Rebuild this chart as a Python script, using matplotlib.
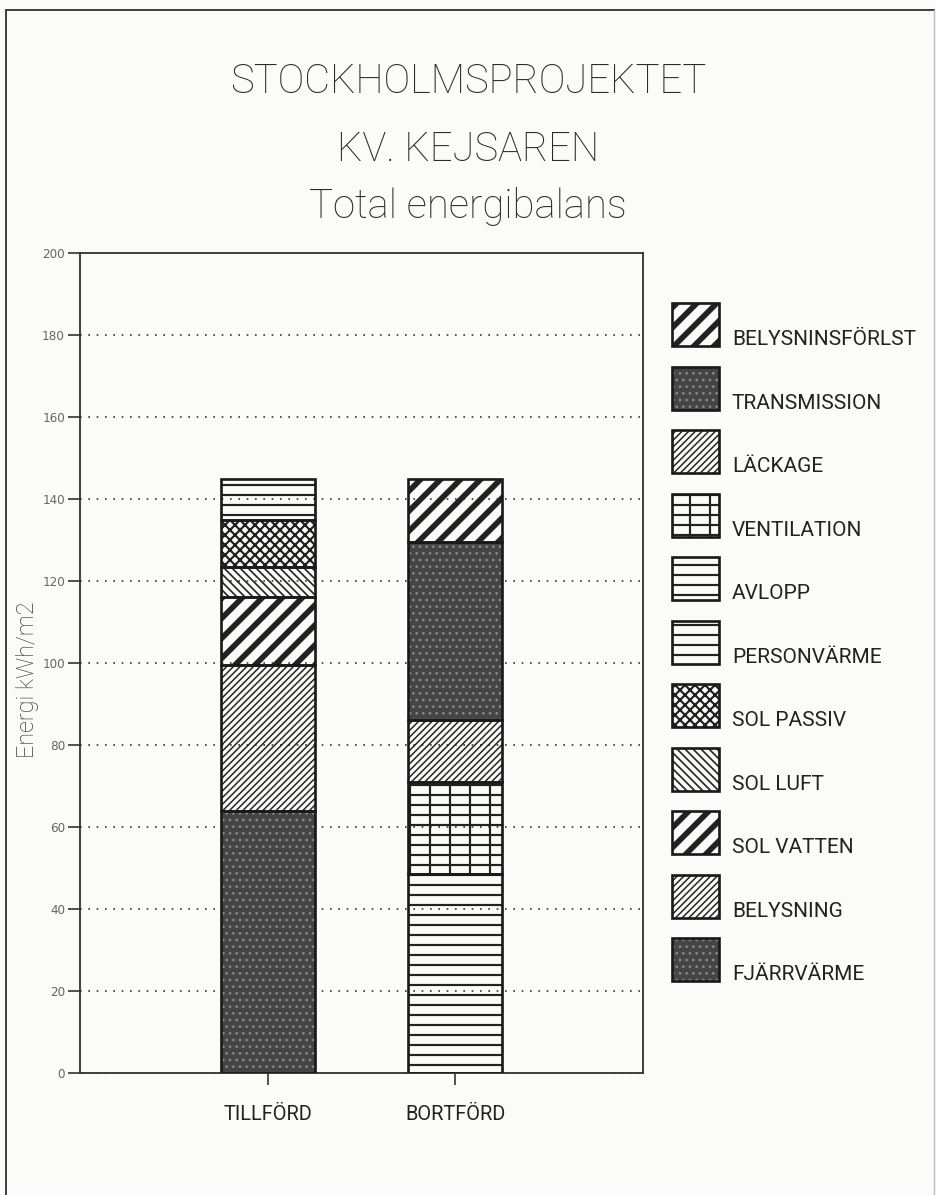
import matplotlib
matplotlib.use("Agg")
import matplotlib.pyplot as plt
from matplotlib.patches import Rectangle
from matplotlib import font_manager

# --- data -------------------------------------------------------------
categories = ["TILLFÖRD", "BORTFÖRD"]
components = ["FJÄRRVÄRME", "BELYSNING", "SOL VATTEN", "SOL LUFT", "SOL PASSIV",
              "PERSONVÄRME", "AVLOPP", "VENTILATION", "LÄCKAGE", "TRANSMISSION",
              "BELYSNINSFÖRLST"]
tillford = [64.0, 35.5, 16.5, 7.5, 11.5, 10.0, 0, 0, 0, 0, 0]
bortford = [0, 0, 0, 0, 0, 0, 48.5, 22.5, 15.0, 43.5, 15.5]
yticks = [0, 20, 40, 60, 80, 100, 120, 140, 160, 180, 200]

# --- fonts ------------------------------------------------------------
available = {f.name for f in font_manager.fontManager.ttflist}
narrow = "Liberation Sans Narrow" if "Liberation Sans Narrow" in available else "Roboto"

# --- fill styles per component ---------------------------------------
DARK = dict(kind="dark")
styles = {
    "FJÄRRVÄRME": DARK,
    "TRANSMISSION": DARK,
    "BELYSNING": dict(kind="hatch", hatch="//////", hlw=0.9),
    "LÄCKAGE": dict(kind="hatch", hatch="//////", hlw=0.9),
    "SOL VATTEN": dict(kind="hatch", hatch="//", hlw=3.4),
    "BELYSNINSFÖRLST": dict(kind="hatch", hatch="//", hlw=3.4),
    "SOL LUFT": dict(kind="hatch", hatch="\\\\\\\\\\", hlw=1.0),
    "SOL PASSIV": dict(kind="hatch", hatch="xxxx", hlw=1.3),
    "PERSONVÄRME": dict(kind="hatch", hatch="--", hlw=1.3),
    "AVLOPP": dict(kind="hatch", hatch="--", hlw=1.3),
    "VENTILATION": dict(kind="grid", hlw=1.3),
}

DPI = 120
fig = plt.figure(figsize=(936 / DPI, 1195 / DPI), dpi=DPI, facecolor="#fbfbf9")


def set_hlw(artist, lw):
    if hasattr(artist, "set_hatch_linewidth"):
        artist.set_hatch_linewidth(lw)


def paint(draw, style):
    """Draw one filled shape in the given style; draw(**kw) returns patches."""
    kind = style["kind"]
    if kind == "dark":
        for p in draw(facecolor="#454545", edgecolor="#8a8a8a", hatch="...",
                      linewidth=0, zorder=2):
            set_hlw(p, 0.8)
    elif kind == "grid":
        for p in draw(facecolor="none", edgecolor="#222222", hatch="--",
                      linewidth=0, zorder=2):
            set_hlw(p, style["hlw"])
        for p in draw(facecolor="none", edgecolor="#222222", hatch="|",
                      linewidth=0, zorder=2):
            set_hlw(p, style["hlw"])
    else:
        with plt.rc_context({"hatch.linewidth": style["hlw"]}):
            for p in draw(facecolor="none", edgecolor="#222222",
                          hatch=style["hatch"], linewidth=0, zorder=2):
                set_hlw(p, style["hlw"])
    draw(facecolor="none", edgecolor="#1a1a1a", linewidth=1.6, zorder=3)


# --- main axes --------------------------------------------------------
ax = fig.add_axes([80 / 936, 122 / 1195, 563 / 936, 820 / 1195])
ax.set_facecolor("none")
ax.set_xlim(0, 3)
ax.set_ylim(0, 200)

xpos = [1, 2]
bottoms = [0.0, 0.0]
for i, name in enumerate(components):
    vals = [tillford[i], bortford[i]]
    for j in range(2):
        if vals[j] <= 0:
            continue
        x, b, h = xpos[j], bottoms[j], vals[j]
        paint(lambda **kw: list(ax.bar([x], [h], bottom=[b], width=0.5, **kw)),
              styles[name])
        bottoms[j] += h

ax.set_yticks(yticks)
ax.set_yticklabels([str(v) for v in yticks], fontsize=7.2, color="#666666",
                   family="DejaVu Sans")
ax.set_xticks(xpos)
ax.set_xticklabels(categories, fontsize=12, family=narrow, color="#222222")
ax.tick_params(axis="y", direction="out", length=7, width=1, color="#333333", pad=2)
ax.tick_params(axis="x", direction="out", length=7, width=1, color="#333333", pad=12)
ax.yaxis.grid(True, linestyle=(0, (1, 4)), color="#333333", linewidth=1.0, zorder=1)
ax.set_axisbelow(True)
for sp in ax.spines.values():
    sp.set_color("#333333")
    sp.set_linewidth(1.1)

fig.text(28 / 936, 1 - 680 / 1195, "Energi kWh/m2", rotation=90, ha="center",
         va="center", fontsize=14, family=narrow, color="#3a3a3a",
         fontweight="light")

# --- titles -----------------------------------------------------------
title_lines = ["STOCKHOLMSPROJEKTET", "KV. KEJSAREN", "Total energibalans"]
title_y = [82, 150, 207]
for t, y in zip(title_lines, title_y):
    fig.text(468 / 936, 1 - y / 1195, t, ha="center", va="center",
             fontsize=24, family=narrow, color="#2a2a2a", fontweight="light")

# --- legend (drawn in figure pixel space) -----------------------------
lax = fig.add_axes([0, 0, 1, 1])
lax.set_xlim(0, 936)
lax.set_ylim(1195, 0)
lax.axis("off")
lax.set_zorder(5)

legend_order = components[::-1]
for k, name in enumerate(legend_order):
    top = 303 + k * 63.5
    paint(lambda **kw: [lax.add_patch(Rectangle((672, top), 47, 43, **kw))],
          styles[name])
    lax.text(732, top + 42, name, ha="left", va="baseline", fontsize=12.5,
             family=narrow, color="#222222")

# outer frame
lax.plot([6, 6], [1195, 10], color="#444444", linewidth=1.2)
lax.plot([6, 934], [10, 10], color="#444444", linewidth=1.2)
lax.plot([934, 934], [10, 1195], color="#bbbbbb", linewidth=0.8)

fig.savefig("out.png", dpi=DPI, facecolor=fig.get_facecolor())
